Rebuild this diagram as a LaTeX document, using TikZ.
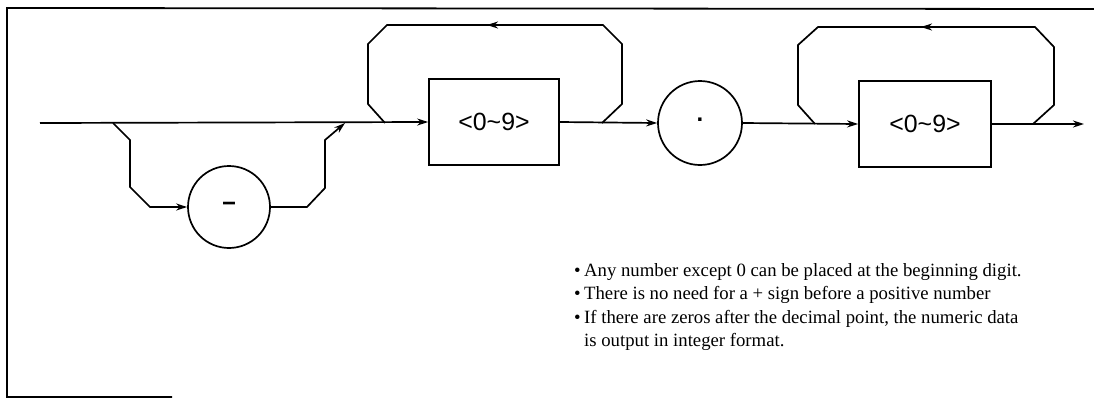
\documentclass[tikz,border=0pt]{standalone}
\usepackage{fontspec}
\setmainfont{Liberation Serif}
\newfontfamily\boxfont{Liberation Sans}
\usetikzlibrary{arrows.meta}
\begin{document}
\begin{tikzpicture}[x=1bp,y=-1bp,
  line/.style={line width=1.7bp,line join=miter},
  arr/.style={line,-{Stealth[length=11bp,width=7bp]}},
  term/.style={draw,line width=1.7bp,rectangle,inner sep=0pt,font=\boxfont\fontsize{25}{25}\selectfont},
  litcirc/.style={draw,line width=1.7bp,circle,inner sep=0pt,font=\boxfont\bfseries\fontsize{24}{24}\selectfont},
  note/.style={align=left,inner sep=0pt,anchor=north west,font=\fontsize{18.8}{23.6}\selectfont}]
\useasboundingbox (0,0) rectangle (1094,398);
% frame
\draw[line width=1.8bp] (1094,9) -- (7,8) -- (7,397) -- (172,397);
% nodes
\coordinate (start) at (40,123);
\coordinate (fin) at (1084,124);
\node[term,minimum width=130bp,minimum height=86bp] (d1) at (494,122) {<0\char"007E\relax 9>};
\node[term,minimum width=132bp,minimum height=86bp] (d2) at (925,124) {<0\char"007E\relax 9>};
\node[litcirc,minimum size=82bp] (minus) at (229,207) {\raisebox{0.05em}{−}};
\node[litcirc,minimum size=84bp] (dot) at (700,123) {\raisebox{0.28em}{.}};
% main path
\draw[arr] (start) -- (d1.west);
\coordinate (b1) at (113,123);
\coordinate (b2) at (345,123);
\draw[arr] (b1) -- (130,140) -- (130,187) -- (150,207) -- (minus.west);
\draw[arr] (minus.east) -- (307,207) -- (325,188) -- (325,140) -- (b2);
% loop 1
\coordinate (l1a) at (602,123);
\coordinate (l1b) at (385,123);
\draw[line] (l1a) -- (622,104) -- (622,44) -- (603,25) -- (387,25) -- (368,44) -- (368,104) -- (l1b);
\draw[arr] (603,25) -- (487,25);
\draw[arr] (d1.east) -- (dot.west);
\draw[arr] (dot.east) -- (d2.west);
% loop 2
\coordinate (l2a) at (1033,124);
\coordinate (l2b) at (815,124);
\draw[line] (l2a) -- (1054,105) -- (1054,47) -- (1035,27) -- (818,27) -- (798,45) -- (798,105) -- (l2b);
\draw[arr] (1035,27) -- (921,27);
\draw[arr] (d2.east) -- (fin);
% notes
\node[note] (txt) at (574,263) {%
\makebox[10bp][l]{•}Any number except 0 can be placed at the beginning digit.\\
\makebox[10bp][l]{•}There is no need for a + sign before a positive number\\
\makebox[10bp][l]{•}If there are zeros after the decimal point, the numeric data\\
\makebox[10bp][l]{}is output in integer format.};
\end{tikzpicture}
\end{document}
